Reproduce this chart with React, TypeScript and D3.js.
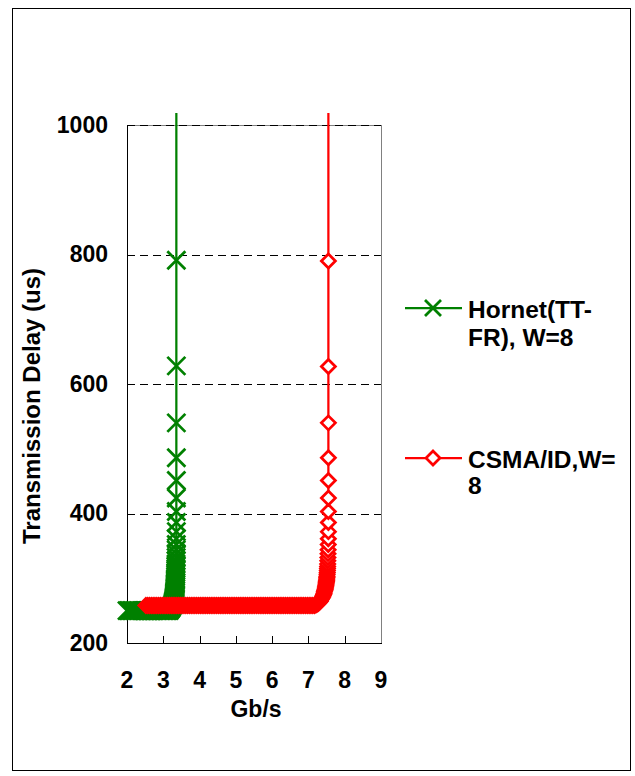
import React from 'react';
import * as d3 from 'd3';

// Throughput (Gb/s) and transmission delay (us)
const hornetGbps = [
  2.0, 2.04, 2.08, 2.12, 2.16, 2.2, 2.24, 2.28, 2.32, 2.36,
  2.4, 2.44, 2.48, 2.52, 2.56, 2.6, 2.64, 2.68, 2.72, 2.76,
  2.8, 2.84, 2.88, 2.92, 2.96, 3.0, 3.04, 3.08, 3.12, 3.16,
  3.19, 3.215, 3.235, 3.25, 3.262, 3.272, 3.28, 3.287, 3.293, 3.298,
  3.303, 3.307, 3.311, 3.314, 3.317, 3.32, 3.323, 3.325, 3.327, 3.329,
  3.331, 3.333, 3.335, 3.337, 3.338, 3.34, 3.342, 3.344, 3.346, 3.348,
  3.349, 3.351, 3.353, 3.354, 3.356, 3.357, 3.358, 3.359, 3.36, 3.36,
  3.36, 3.36, 3.36, 3.36, 3.36, 3.36, 3.36, 3.36,
];
const hornetDelay = [
  250, 250, 250, 250, 250, 250, 250, 250, 250, 250,
  250, 250, 250, 250, 250, 250, 250, 250, 250, 250,
  250, 250, 250, 250, 250, 250, 250, 250, 250, 250,
  252, 254, 256, 258, 260, 262, 264, 266, 268, 270,
  272, 274, 276, 278, 280, 282, 284, 286, 288, 290,
  292, 294, 296, 298, 300, 303, 306, 309, 312, 315,
  318, 322, 327, 332, 338, 344, 352, 361, 372, 386,
  403, 424, 451, 486, 540, 628, 791, 1200,
];

const csmaGbps = [
  2.52, 2.57, 2.62, 2.67, 2.72, 2.77, 2.82, 2.87, 2.92, 2.97,
  3.02, 3.07, 3.12, 3.17, 3.22, 3.27, 3.32, 3.37, 3.42, 3.47,
  3.52, 3.57, 3.62, 3.67, 3.72, 3.77, 3.82, 3.87, 3.92, 3.97,
  4.02, 4.07, 4.12, 4.17, 4.22, 4.27, 4.32, 4.37, 4.42, 4.47,
  4.52, 4.57, 4.62, 4.67, 4.72, 4.77, 4.82, 4.87, 4.92, 4.97,
  5.02, 5.07, 5.12, 5.17, 5.22, 5.27, 5.32, 5.37, 5.42, 5.47,
  5.52, 5.57, 5.62, 5.67, 5.72, 5.77, 5.82, 5.87, 5.92, 5.97,
  6.02, 6.07, 6.12, 6.17, 6.22, 6.27, 6.32, 6.37, 6.42, 6.47,
  6.52, 6.57, 6.62, 6.67, 6.72, 6.77, 6.82, 6.87, 6.92, 6.97,
  7.02, 7.07, 7.12, 7.17,
  7.21, 7.24, 7.265, 7.285, 7.3, 7.315, 7.33, 7.35, 7.37, 7.39,
  7.405, 7.42, 7.43, 7.44, 7.45, 7.46, 7.467, 7.474, 7.48, 7.486,
  7.491, 7.496, 7.5, 7.504, 7.508, 7.511, 7.515, 7.519, 7.522, 7.525,
  7.528, 7.531, 7.534, 7.537, 7.54, 7.543, 7.546, 7.548, 7.55, 7.55,
  7.55, 7.55, 7.55, 7.55, 7.55, 7.55, 7.55, 7.55,
];
const csmaDelay = [
  258, 258, 258, 258, 258, 258, 258, 258, 258, 258,
  258, 258, 258, 258, 258, 258, 258, 258, 258, 258,
  258, 258, 258, 258, 258, 258, 258, 258, 258, 258,
  258, 258, 258, 258, 258, 258, 258, 258, 258, 258,
  258, 258, 258, 258, 258, 258, 258, 258, 258, 258,
  258, 258, 258, 258, 258, 258, 258, 258, 258, 258,
  258, 258, 258, 258, 258, 258, 258, 258, 258, 258,
  258, 258, 258, 258, 258, 258, 258, 258, 258, 258,
  258, 258, 258, 258, 258, 258, 258, 258, 258, 258,
  258, 258, 258, 258,
  259, 260, 261, 262, 263, 264, 265, 267, 269, 271,
  273, 275, 277, 279, 281, 283, 285, 287, 289, 291,
  293, 295, 297, 299, 301, 303, 306, 309, 312, 315,
  318, 322, 327, 332, 338, 344, 352, 361, 372, 386,
  403, 424, 451, 486, 540, 627, 790, 1200,
];

const xTicks = [2, 3, 4, 5, 6, 7, 8, 9];
const yTicks = [200, 400, 600, 800, 1000];
const gridTicks = [400, 600, 800, 1000];

const FONT = '"Liberation Sans", Arial, Helvetica, sans-serif';
const GREEN = '#008000';
const RED = '#ff0000';

const crossPath = (h: number) => `M${-h},${-h}L${h},${h}M${-h},${h}L${h},${-h}`;
const diamondPath = (h: number) => `M0,${-h}L${h},0L0,${h}L${-h},0Z`;

const App = () => {
  const x = d3.scaleLinear().domain([2, 9]).range([127, 381]);
  const y = d3.scaleLinear().domain([200, 1000]).range([643, 125]);

  const line = d3.line<[number, number]>()
    .x(d => x(d[0]))
    .y(d => y(d[1]));

  const hornet: [number, number][] = hornetGbps.map((g, i) => [g, hornetDelay[i]]);
  const csma: [number, number][] = csmaGbps.map((g, i) => [g, csmaDelay[i]]);

  return (
    <svg width={635} height={776} style={{ position: 'absolute', left: 0, top: 0, background: '#fff' }}>
      <defs>
        <clipPath id="plotClip">
          <rect x={0} y={113} width={635} height={663} />
        </clipPath>
      </defs>
      <rect x={12.5} y={8.5} width={618} height={762} fill="#fff" stroke="#000" strokeWidth={1} />

      {/* plot frame */}
      <line x1={127} x2={381} y1={125.5} y2={125.5} stroke="#808080" />
      <line x1={381.5} x2={381.5} y1={125} y2={643} stroke="#808080" />

      {gridTicks.map(t => (
        <line key={t} x1={127} x2={381} y1={Math.round(y(t)) + 0.5} y2={Math.round(y(t)) + 0.5}
          stroke="#000" strokeDasharray="8,5" />
      ))}

      {/* axes */}
      <line x1={127.5} x2={127.5} y1={125} y2={644} stroke="#000" />
      <line x1={127} x2={382} y1={643.5} y2={643.5} stroke="#000" />
      {xTicks.slice(1, -1).map(t => (
        <line key={t} x1={Math.round(x(t)) + 0.5} x2={Math.round(x(t)) + 0.5} y1={636} y2={643}
          stroke="#000" />
      ))}

      {yTicks.map(t => (
        <text key={t} x={108} y={y(t) + 7.5} textAnchor="end" fontFamily={FONT} fontWeight="bold"
          fontSize={23}>{t}</text>
      ))}
      {xTicks.map(t => (
        <text key={t} x={x(t)} y={688} textAnchor="middle" fontFamily={FONT} fontWeight="bold"
          fontSize={23}>{t}</text>
      ))}
      <text x={256} y={717} textAnchor="middle" fontFamily={FONT} fontWeight="bold" fontSize={23}>Gb/s</text>
      <text transform="translate(40,406) rotate(-90)" textAnchor="middle" fontFamily={FONT}
        fontWeight="bold" fontSize={24}>Transmission Delay (us)</text>

      {/* series */}
      <g clipPath="url(#plotClip)">
        <path d={line(hornet) ?? ''} fill="none" stroke={GREEN} strokeWidth={2.25} />
        {hornet.filter(d => d[1] <= 1000).map((d, i) => (
          <path key={i} d={crossPath(9)} transform={`translate(${x(d[0])},${y(d[1])})`}
            fill="none" stroke={GREEN} strokeWidth={2.75} />
        ))}
        <path d={line(csma) ?? ''} fill="none" stroke={RED} strokeWidth={2.25} />
        {csma.filter(d => d[1] <= 1000).map((d, i) => (
          <path key={i} d={diamondPath(7)} transform={`translate(${x(d[0])},${y(d[1])})`}
            fill="#fff" stroke={RED} strokeWidth={2.75} />
        ))}
      </g>

      {/* legend */}
      <g fontFamily={FONT} fontWeight="bold" fontSize={24.5}>
        <line x1={405} x2={462} y1={308} y2={308} stroke={GREEN} strokeWidth={2.25} />
        <path d={crossPath(8)} transform="translate(433,308)" fill="none" stroke={GREEN} strokeWidth={2.75} />
        <text x={468} y={318}>Hornet(TT-</text>
        <text x={468} y={346}>FR), W=8</text>
        <line x1={405} x2={462} y1={458} y2={458} stroke={RED} strokeWidth={2.25} />
        <path d={diamondPath(7)} transform="translate(433,458)" fill="#fff" stroke={RED} strokeWidth={2.75} />
        <text x={468} y={468}>CSMA/ID,W=</text>
        <text x={468} y={494}>8</text>
      </g>
    </svg>
  );
};

export default App;
